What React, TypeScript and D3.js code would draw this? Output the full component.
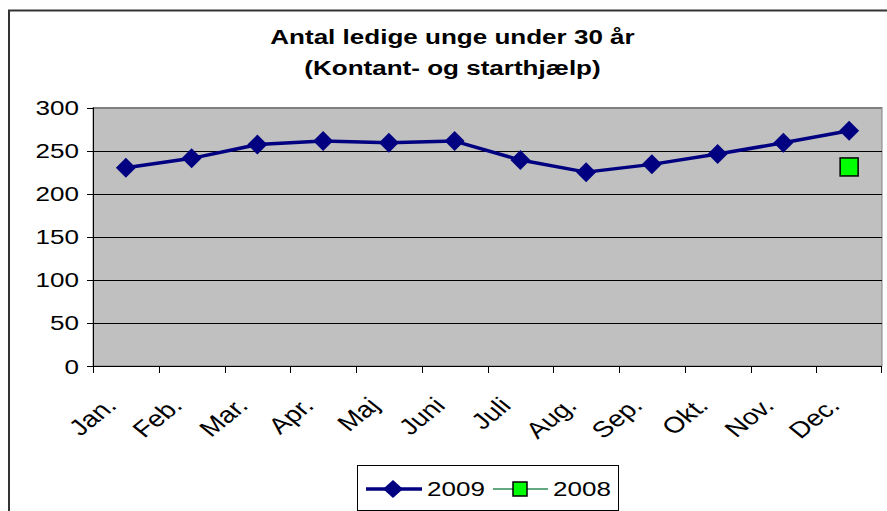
import React from "react";
import * as d3 from "d3";

const months = ["Jan.", "Feb.", "Mar.", "Apr.", "Maj", "Juni", "Juli", "Aug.", "Sep.", "Okt.", "Nov.", "Dec."];
const values2009 = [230, 241, 257, 261, 259, 261, 239, 225, 234, 246, 259, 273];
const values2008: (number | null)[] = [null, null, null, null, null, null, null, null, null, null, null, 231];
const yTicks = [0, 50, 100, 150, 200, 250, 300];
const titleLines = ["Antal ledige unge under 30 år", "(Kontant- og starthjælp)"];

const W = 887;
const H = 511;
const plot = { left: 93, right: 882, top: 107.5, bottom: 366 };
const FONT = "'Liberation Sans', Arial, sans-serif";
const SX = 1.24; // horizontal stretch of the reference

export default function App() {
  const x = d3.scaleBand<string>().domain(months).range([plot.left, plot.right]).padding(0);
  const y = d3.scaleLinear().domain([0, 300]).range([plot.bottom, plot.top]);
  const cx = (m: string) => (x(m) as number) + x.bandwidth() / 2;
  const line = d3
    .line<number>()
    .x((_, i) => cx(months[i]))
    .y((d) => y(d));
  const diamond = (px: number, py: number, rx: number, ry: number) =>
    `M${px},${py - ry}L${px + rx},${py}L${px},${py + ry}L${px - rx},${py}Z`;

  return (
    <svg width={W} height={H} style={{ position: "absolute", left: 0, top: 0 }} fontFamily={FONT}>
      <rect x={0} y={0} width={W} height={H} fill="#fff" />
      {/* outer frame */}
      <path d={`M9,${H + 5}V10.5H${W + 5}`} fill="none" stroke="#333" strokeWidth={2} />
      {/* title */}
      {titleLines.map((t, i) => (
        <text key={i} transform={`translate(452.5,${44 + i * 31}) scale(${SX},1)`} textAnchor="middle" fontSize={21} fontWeight="bold" fill="#000">
          {t}
        </text>
      ))}
      {/* plot background */}
      <rect x={plot.left} y={plot.top} width={plot.right - plot.left} height={plot.bottom - plot.top} fill="#c0c0c0" stroke="#808080" strokeWidth={1} />
      {/* gridlines */}
      {yTicks.filter((t) => t > 0).map((t) => (
        <line key={t} x1={plot.left} x2={plot.right} y1={Math.round(y(t)) + 0.5} y2={Math.round(y(t)) + 0.5} stroke={t === 300 ? "#808080" : "#000"} strokeWidth={1} />
      ))}
      {/* y axis */}
      <line x1={plot.left + 0.5} x2={plot.left + 0.5} y1={plot.top} y2={plot.bottom} stroke="#000" />
      {yTicks.map((t) => (
        <g key={t}>
          <line x1={plot.left - 6} x2={plot.left} y1={Math.round(y(t)) + 0.5} y2={Math.round(y(t)) + 0.5} stroke="#000" />
          <text transform={`translate(${plot.left - 14},${y(t) + 7.5}) scale(${SX},1)`} textAnchor="end" fontSize={21} fill="#000">
            {t}
          </text>
        </g>
      ))}
      {/* x axis */}
      <line x1={plot.left} x2={plot.right} y1={plot.bottom + 0.5} y2={plot.bottom + 0.5} stroke="#000" />
      {months.map((m) => (
        <line key={m} x1={Math.round(x(m) as number) + 0.5} x2={Math.round(x(m) as number) + 0.5} y1={plot.bottom} y2={plot.bottom + 7} stroke="#000" />
      ))}
      <line x1={plot.right - 0.5} x2={plot.right - 0.5} y1={plot.bottom} y2={plot.bottom + 7} stroke="#000" />
      {months.map((m) => (
        <text key={m} transform={`translate(${cx(m) - 8},${plot.bottom + 41}) scale(${SX},1) rotate(-45)`} textAnchor="end" fontSize={22.5} fill="#000">
          {m}
        </text>
      ))}
      {/* 2009 series */}
      <path d={line(values2009) as string} fill="none" stroke="#000080" strokeWidth={3.5} strokeLinejoin="round" />
      {values2009.map((v, i) => (
        <path key={i} d={diamond(cx(months[i]), y(v), 10, 10)} fill="#000080" />
      ))}
      {/* 2008 series */}
      {values2008.map((v, i) =>
        v == null ? null : (
          <rect key={i} x={cx(months[i]) - 9} y={y(v) - 9} width={18} height={18} fill="#00ff00" stroke="#000" strokeWidth={1.5} />
        )
      )}
      {/* legend */}
      <rect x={357.5} y={465.5} width={261} height={45} fill="#fff" stroke="#000" strokeWidth={1} />
      <line x1={366} x2={422} y1={489} y2={489} stroke="#000080" strokeWidth={3.5} />
      <path d={diamond(393, 489, 10, 9)} fill="#000080" />
      <text transform={`translate(427,496) scale(${SX},1)`} fontSize={21} fill="#000">2009</text>
      <line x1={493} x2={548} y1={489} y2={489} stroke="#2e8b57" strokeWidth={1.5} />
      <rect x={513} y={482} width={14} height={14} fill="#00ff00" stroke="#000" strokeWidth={1.5} />
      <text transform={`translate(553,496) scale(${SX},1)`} fontSize={21} fill="#000">2008</text>
    </svg>
  );
}
